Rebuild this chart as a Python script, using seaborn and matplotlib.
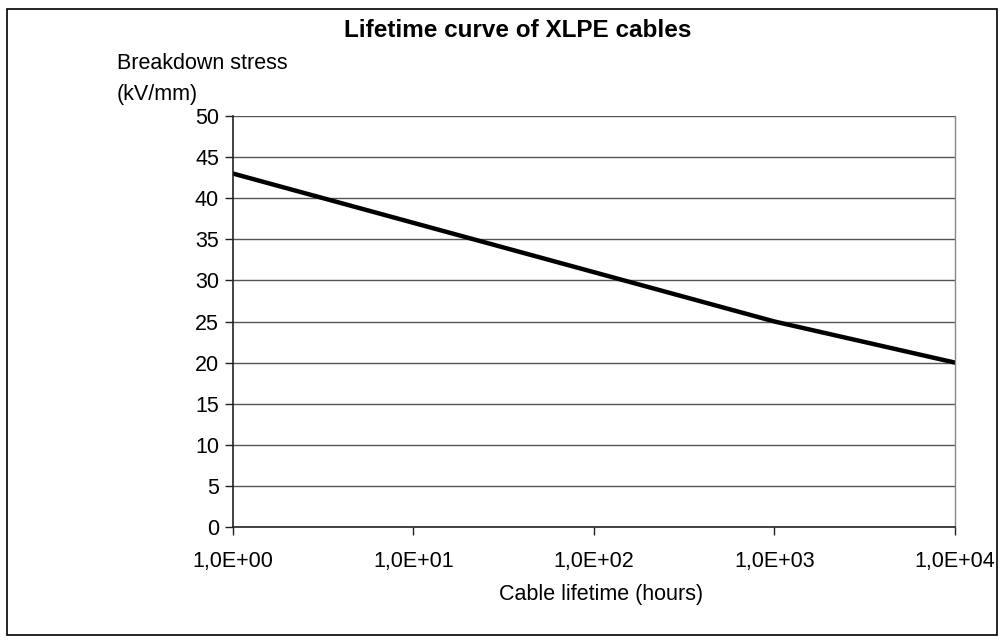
import matplotlib
matplotlib.use("Agg")
import matplotlib.pyplot as plt
import matplotlib.ticker as mticker
from matplotlib.patches import Rectangle
import seaborn as sns
import pandas as pd

# dati
lifetime = [1, 10, 100, 1000, 10000]     # ore
stress = [43, 37, 31, 25, 20]            # kV/mm
y_ticks = [0, 5, 10, 15, 20, 25, 30, 35, 40, 45, 50]
x_ticks = [1, 10, 100, 1000, 10000]

df = pd.DataFrame({"lifetime": lifetime, "stress": stress})

sns.set_style("white")
plt.rcParams['font.family'] = ['Liberation Sans', 'DejaVu Sans']
plt.rcParams['text.color'] = 'black'
plt.rcParams['xtick.color'] = 'black'
plt.rcParams['ytick.color'] = 'black'

fig = plt.figure(figsize=(10.05, 6.43), dpi=100)
ax = fig.add_axes([0.2318, 0.1804, 0.7184, 0.6392])

sns.lineplot(data=df, x="lifetime", y="stress", color="black", linewidth=3.2, ax=ax)

ax.set_xscale("log")
ax.set_xlim(1, 10000)
ax.set_ylim(0, 50)
ax.set_xticks(x_ticks)
ax.xaxis.set_minor_locator(mticker.NullLocator())
ax.xaxis.set_major_formatter(mticker.FuncFormatter(
    lambda v, p: ("%.1E" % v).replace(".", ",")))
ax.set_yticks(y_ticks)
ax.yaxis.grid(True, color="#555555", linewidth=1.0)
ax.xaxis.grid(False)
ax.set_xlabel("")
ax.set_ylabel("")

for s in ["left", "bottom"]:
    ax.spines[s].set_color("#222222")
    ax.spines[s].set_linewidth(1.2)
ax.spines["right"].set_color("#888888")
ax.spines["right"].set_linewidth(1.0)
ax.spines["top"].set_visible(False)

ax.tick_params(axis="both", which="major", direction="out", length=6, width=1,
               color="#222222", labelsize=15.5, labelcolor="black", bottom=True, left=True)
ax.tick_params(axis="x", pad=11)
ax.tick_params(axis="y", pad=4)

fig.text(0.515, 0.953, "Lifetime curve of XLPE cables", ha="center", va="center",
         fontsize=17.5, fontweight="bold")
fig.text(0.116, 0.877, "Breakdown stress\n(kV/mm)", ha="left", va="center",
         fontsize=15.5, linespacing=1.6)
fig.text(0.598, 0.076, "Cable lifetime (hours)", ha="center", va="center", fontsize=15.5)

fig.patches.append(Rectangle((0.007, 0.012), 0.985, 0.974, transform=fig.transFigure,
                             fill=False, edgecolor="black", linewidth=1.2))

fig.savefig("out.png", dpi=100)
